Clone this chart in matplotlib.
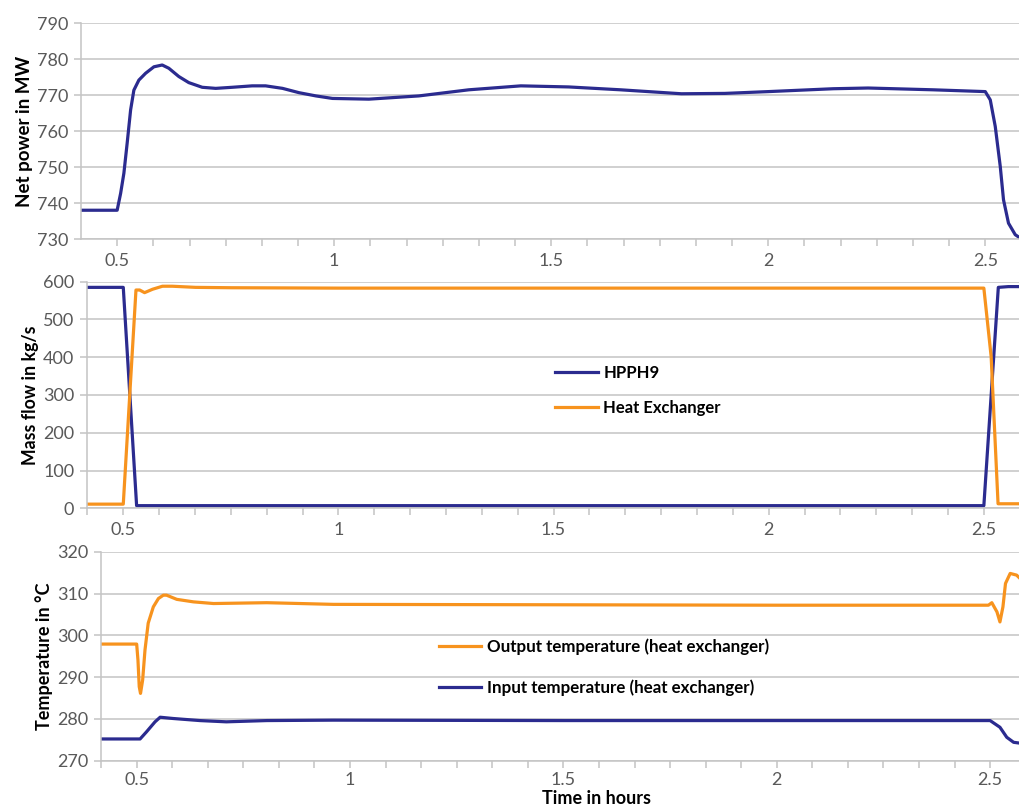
import numpy as np
import matplotlib.pyplot as plt
from matplotlib.ticker import MultipleLocator, FuncFormatter

plt.rcParams['font.family'] = ['Lato', 'DejaVu Sans']

BLUE = '#2b2b8f'
ORANGE = '#f7931e'
GRID = '#c4c4c4'
TICKC = '#595959'

# net power (MW)
t_power = [0.4167, 0.5, 0.508, 0.5155, 0.523, 0.531, 0.5385, 0.55, 0.5655, 0.5847, 0.6038,
           0.619, 0.642, 0.665, 0.696, 0.727, 0.765, 0.811, 0.842, 0.881, 0.919, 0.958, 0.996,
           1.08, 1.195, 1.31, 1.43, 1.54, 1.66, 1.8, 1.9, 2.0, 2.15, 2.23, 2.38, 2.5,
           2.5115, 2.523, 2.5345, 2.542, 2.5535, 2.569, 2.58]
net_power = [738.0, 738.0, 742.7, 748.3, 756.6, 765.9, 771.4, 774.2, 776.1, 777.9, 778.4,
             777.5, 775.2, 773.5, 772.2, 771.9, 772.2, 772.6, 772.6, 771.9, 770.7, 769.8, 769.1,
             768.9, 769.8, 771.5, 772.6, 772.3, 771.5, 770.4, 770.5, 771.0, 771.8, 772.0, 771.5, 771.0,
             768.7, 761.3, 750.2, 740.9, 734.4, 731.2, 730.3]

# mass flow (kg/s)
t_hpph9 = [0.415, 0.5, 0.531, 1.0, 1.5, 2.0, 2.5, 2.5336, 2.557, 2.584]
hpph9 = [585, 585, 7, 7, 7, 7, 7, 585, 587, 587]
t_hx = [0.415, 0.5, 0.5295, 0.538, 0.5495, 0.568, 0.591, 0.614, 0.668, 0.752,
        1.0, 1.5, 2.0, 2.5, 2.517, 2.533, 2.584]
hx = [11, 11, 578, 578, 571, 580, 588, 588, 585, 584,
      583, 583, 583, 583, 401, 12, 12]

# temperatures (deg C)
t_out = [0.4164, 0.5, 0.503, 0.506, 0.509, 0.514, 0.5195, 0.527, 0.539, 0.551, 0.5625,
         0.570, 0.594, 0.633, 0.680, 0.805, 0.961, 1.5, 2.0, 2.496, 2.504, 2.516, 2.523,
         2.53, 2.536, 2.547, 2.562, 2.57]
t_output = [297.9, 297.9, 294.1, 287.7, 286.1, 289.3, 296.5, 302.9, 306.8, 308.8, 309.6,
            309.6, 308.6, 308.0, 307.6, 307.8, 307.4, 307.3, 307.2, 307.2, 307.8, 305.6, 303.2,
            306.8, 312.4, 314.8, 314.4, 313.6]
t_in = [0.4164, 0.508, 0.523, 0.543, 0.555, 0.585, 0.648, 0.71, 0.805, 0.961, 1.5, 2.0,
        2.5, 2.523, 2.539, 2.555, 2.57]
t_input = [275.2, 275.2, 276.9, 279.3, 280.4, 280.1, 279.6, 279.3, 279.6, 279.7, 279.6, 279.6,
           279.6, 278.0, 275.6, 274.4, 274.2]

W, H = 1020, 807
fig = plt.figure(figsize=(W / 100, H / 100), dpi=100)


def box(left, top, bottom):
    return [left / W, 1 - bottom / H, 1 - left / W, (bottom - top) / H]


def style(ax, xlim, ylim, ystep):
    ax.set_xlim(*xlim)
    ax.set_ylim(*ylim)
    ax.yaxis.set_major_locator(MultipleLocator(ystep))
    ax.xaxis.set_major_locator(MultipleLocator(0.5))
    ax.xaxis.set_minor_locator(MultipleLocator(1 / 12))
    ax.xaxis.set_major_formatter(FuncFormatter(lambda v, p: '%g' % v))
    ax.grid(axis='y', color=GRID, lw=1.1)
    ax.set_axisbelow(True)
    for s in ['top', 'right']:
        ax.spines[s].set_visible(False)
    for s in ['left', 'bottom']:
        ax.spines[s].set_color(GRID)
        ax.spines[s].set_linewidth(1.1)
    ax.tick_params(axis='both', which='both', direction='out', length=5,
                   color=GRID, width=1.1, labelcolor=TICKC, labelsize=13)
    ax.tick_params(axis='x', which='major', pad=5)
    ax.tick_params(axis='y', pad=4)


ax1 = fig.add_axes(box(81, 23.3, 239))
ax1.plot(t_power, net_power, color=BLUE, lw=2.3)
style(ax1, (0.4167, 2.58), (730, 790), 10)
ax1.set_ylabel('Net power in MW', fontsize=13.5, fontweight='bold', labelpad=3)

ax2 = fig.add_axes(box(86.7, 281.7, 508.3))
ax2.plot(t_hpph9, hpph9, color=BLUE, lw=2.3, label='HPPH9')
ax2.plot(t_hx, hx, color=ORANGE, lw=2.3, label='Heat Exchanger')
style(ax2, (0.415, 2.584), (0, 600), 100)
ax2.set_ylabel('Mass flow in kg/s', fontsize=12.8, fontweight='bold', labelpad=3)
ax2.legend(loc='center left', bbox_to_anchor=(555 / W, 1 - 390.5 / H),
           bbox_transform=fig.transFigure, frameon=False, borderpad=0, borderaxespad=0,
           handlelength=2.6, handletextpad=0.3, labelspacing=1.15,
           prop={'weight': 'bold', 'size': 12})

ax3 = fig.add_axes(box(101, 551.7, 760.7))
ax3.plot(t_out, t_output, color=ORANGE, lw=2.3, label='Output temperature (heat exchanger)')
ax3.plot(t_in, t_input, color=BLUE, lw=2.3, label='Input temperature (heat exchanger)')
style(ax3, (0.4164, 2.57), (270, 320), 10)
ax3.tick_params(axis='x', which='major', pad=3)
ax3.set_ylabel('Temperature in °C', fontsize=13, fontweight='bold', labelpad=3)
ax3.legend(loc='center left', bbox_to_anchor=(439 / W, 1 - 667.5 / H),
           bbox_transform=fig.transFigure, frameon=False, borderpad=0, borderaxespad=0,
           handlelength=2.5, handletextpad=0.35, labelspacing=1.45,
           prop={'weight': 'bold', 'size': 12.2})

fig.text(596 / W, 1 - 799 / H, 'Time in hours', ha='center', va='center',
         fontsize=13, fontweight='bold')

fig.savefig('out.png', dpi=100)
